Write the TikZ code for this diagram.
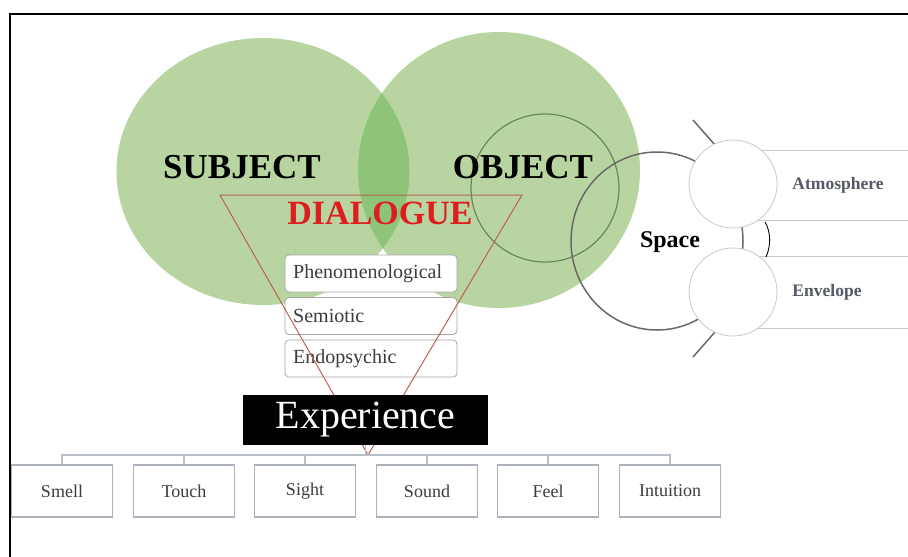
\documentclass[tikz,border=0pt]{standalone}
\usepackage{fontspec}
\setmainfont{Liberation Serif}
\definecolor{venn}{RGB}{183,212,161}
\definecolor{lens}{RGB}{142,196,120}
\definecolor{ringgreen}{RGB}{105,135,95}
\definecolor{spacegrey}{RGB}{105,105,105}
\definecolor{lightedge}{RGB}{200,200,200}
\definecolor{boxedge}{RGB}{172,178,188}
\definecolor{treeline}{RGB}{185,192,200}
\definecolor{tri}{RGB}{185,100,82}
\definecolor{dlgred}{RGB}{222,30,30}
\definecolor{labelgrey}{RGB}{60,60,60}
\definecolor{sidegrey}{RGB}{85,90,100}
\tikzset{
  bigword/.style={font=\fontsize{35}{40}\selectfont\bfseries, inner sep=0pt},
  layerbox/.style={draw=gray!70, line width=0.8pt, fill=white, rounded corners=4pt,
    minimum width=172pt, minimum height=37pt, inner sep=0pt},
  layertext/.style={font=\fontsize{20}{22}\selectfont, text=labelgrey, anchor=west, inner sep=0pt},
  sensebox/.style={draw=boxedge, line width=1.2pt, fill=white, minimum width=101pt,
    minimum height=52pt, inner sep=0pt, font=\fontsize{18}{20}\selectfont, text=labelgrey},
  sidebox/.style={draw=lightedge, line width=1pt, fill=white},
  sidecircle/.style={circle, draw=lightedge, line width=0.8pt, fill=white, minimum size=88pt, inner sep=0pt},
  sidetext/.style={font=\fontsize{17.5}{20}\selectfont\bfseries, text=sidegrey, inner sep=0pt},
  tree/.style={draw=treeline, line width=1.5pt}
}
\begin{document}
\begin{tikzpicture}[x=1pt,y=-1pt]
\useasboundingbox (0,0) rectangle (908,557);
% frame
\draw[line width=2.5pt] (908,14) -- (10,14) -- (10,557);
% venn
\fill[venn] (263,171.5) ellipse [x radius=146.5, y radius=133.5];
\fill[venn] (499,170) ellipse [x radius=141, y radius=138];
\begin{scope}
  \clip (263,171.5) ellipse [x radius=146.5, y radius=133.5];
  \fill[lens] (499,170) ellipse [x radius=141, y radius=138];
\end{scope}
% inner ring of object
\draw[ringgreen, line width=1.2pt] (545,188) circle [radius=74];
% space ring
\draw[spacegrey, line width=1.5pt] (657,241) ellipse [x radius=86, y radius=89];
% side boxes
\path[sidebox] (733,150) rectangle (915,220);
\path[sidebox] (733,256) rectangle (915,328);
% ticks
\draw[spacegrey, line width=1.5pt] (693,120) -- (715,145);
\draw[spacegrey, line width=1.5pt] (715,332) -- (693,357);
\draw[black, line width=0.9pt] (765,222) .. controls (771,232) and (771,246) .. (766,257);
% side circles
\node[sidecircle] (atmc) at (733,184) {};
\node[sidecircle] (envc) at (733,292) {};
\node[sidetext] (atm) at (838,185) {Atmosphere};
\node[sidetext] (env) at (827,292) {Envelope};
\node[font=\fontsize{24}{26}\selectfont\bfseries, inner sep=0pt] (space) at (670,242) {Space};
% words
\node[bigword] (subj) at (242,167) {SUBJECT};
\node[bigword] (obj) at (523,167) {OBJECT};
\node[bigword, text=dlgred, font=\fontsize{34}{38}\selectfont\bfseries] (dlg) at (380,213) {DIALOGUE};
% layer boxes
\node[layerbox] (phen) at (371,273.5) {};
\node[layerbox] (semi) at (371,316) {};
\node[layerbox] (endo) at (371,358.5) {};
\node[layertext] at (293,273.5) {Phenomenological};
\node[layertext] at (293,316) {Semiotic};
\node[layertext] at (293,358.5) {Endopsychic};
% triangle
\coordinate (tl) at (220,195);
\coordinate (tr) at (522,195);
\coordinate (ta) at (368,455);
\draw[tri, line width=1pt] (tl) -- (tr) -- (ta) -- cycle;
% experience
\node[fill=black, text=white, minimum width=245pt, minimum height=50pt, inner sep=0pt,
  font=\fontsize{40}{44}\selectfont] (exp) at (365.5,420) {Experience};
% senses
\node[sensebox] (smell) at (62,491) {Smell};
\node[sensebox] (touch) at (184,491) {Touch};
\node[sensebox] (sight) at (305,491) {Sight};
\node[sensebox] (sound) at (427,491) {Sound};
\node[sensebox] (feel) at (548,491) {Feel};
\node[sensebox] (intu) at (670,491) {Intuition};
\coordinate (bus) at (365.5,455);
\draw[tree] (exp.south) -- (bus);
\draw[tree] (smell.north) -- (smell.north |- bus) -- (intu.north |- bus) -- (intu.north);
\foreach \n in {touch,sight,sound,feel} \draw[tree] (\n.north) -- (\n.north |- bus);
\end{tikzpicture}
\end{document}
